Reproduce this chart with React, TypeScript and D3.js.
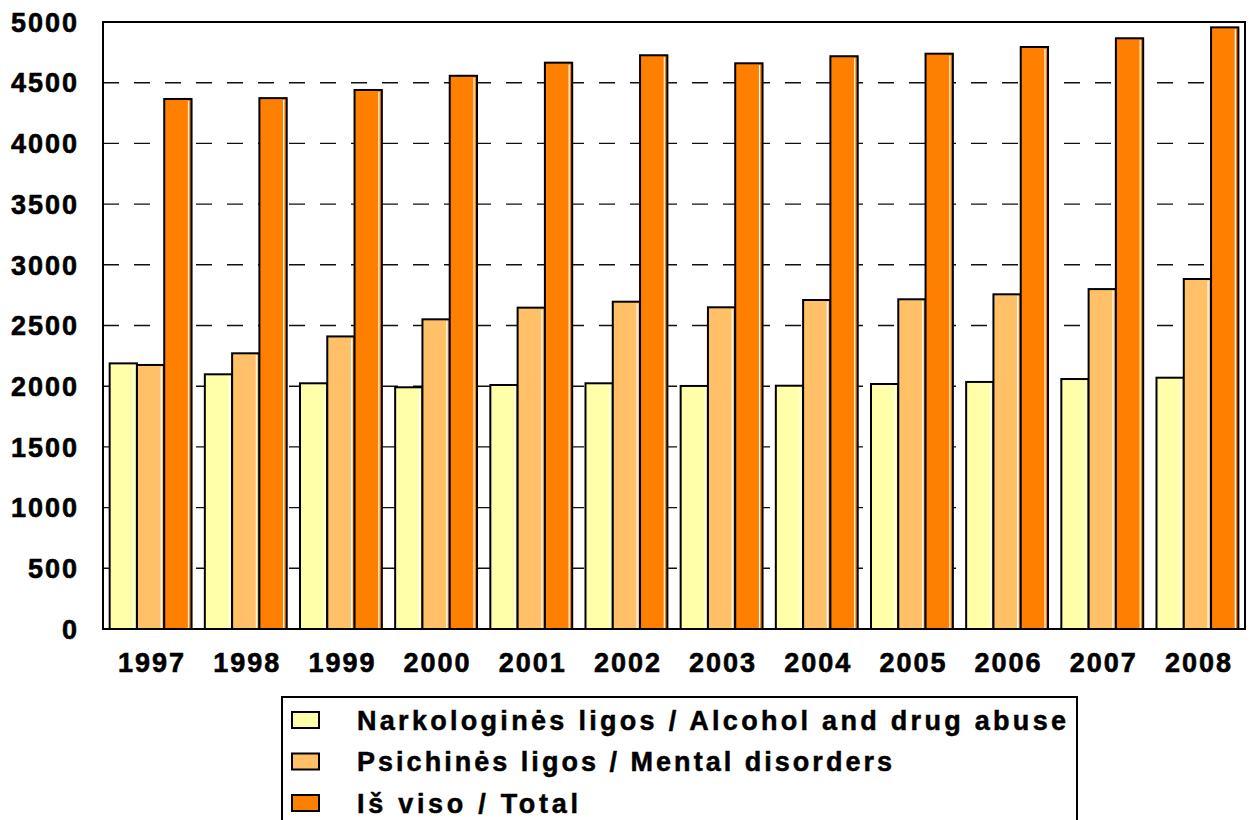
import React from "react";
import * as d3 from "d3";

const years = ["1997","1998","1999","2000","2001","2002","2003","2004","2005","2006","2007","2008"];
const alcohol = [2188, 2098, 2024, 1991, 2010, 2024, 2002, 2004, 2018, 2035, 2059, 2070];
const mental = [2175, 2271, 2410, 2551, 2647, 2696, 2650, 2710, 2716, 2757, 2800, 2883];
const total = [4366, 4373, 4440, 4557, 4665, 4726, 4660, 4718, 4739, 4794, 4866, 4956];
const yTicks = [0, 500, 1000, 1500, 2000, 2500, 3000, 3500, 4000, 4500, 5000];
const seriesNames = [
  "Narkologinės ligos / Alcohol and drug abuse",
  "Psichinės ligos / Mental disorders",
  "Iš viso / Total",
];
const seriesColors = ["#FFFFAA", "#FFC068", "#FF8000"];
const legendWidths = [709, 535, 221];

export default function App() {
  const W = 1250, H = 820;
  const left = 103, right = 1245, top = 22, bottom = 629;
  const y = d3.scaleLinear().domain([0, 5000]).range([bottom, top]);
  const x = d3.scaleBand().domain(years).range([left, right]).paddingInner(0.14).paddingOuter(0.07);
  const keys = ["a", "m", "t"];
  const xs = d3.scaleBand().domain(keys).range([0, x.bandwidth()]).padding(0);
  const data = [alcohol, mental, total];
  const font = "'Liberation Sans', Arial, sans-serif";

  return (
    <svg width={W} height={H} style={{ position: "absolute", left: 0, top: 0, background: "#fff" }}>
      {/* gridlines */}
      {yTicks.filter(t => t > 0 && t < 5000).map(t => (
        <line key={t} x1={left} x2={right} y1={y(t)} y2={y(t)} stroke="#111" strokeWidth={1.4} strokeDasharray="16,15" />
      ))}
      {/* bars */}
      {years.map((yr, i) => (
        <g key={yr} transform={`translate(${x(yr)},0)`}>
          {keys.map((k, j) => {
            const bx = xs(k)!;
            const bw = xs.bandwidth();
            const by = y(data[j][i]);
            return (
              <g key={k}>
                <rect x={bx + 1} y={by + 1} width={bw} height={bottom - by} fill="#999" opacity={0.5} />
                <rect x={bx} y={by} width={bw} height={bottom - by} fill={seriesColors[j]} stroke="#000" strokeWidth={2} />
                <line x1={bx + bw - 3} x2={bx + bw - 3} y1={by + 2} y2={bottom - 1} stroke="#fff" strokeWidth={1.2} />
              </g>
            );
          })}
        </g>
      ))}
      {/* frame */}
      <rect x={left} y={top} width={right - left} height={bottom - top} fill="none" stroke="#000" strokeWidth={2} />
      {/* y labels */}
      {yTicks.map(t => (
        <text key={t} x={79} y={y(t)} dy="0.36em" textAnchor="end" fontFamily={font} fontWeight="bold" fontSize={27} letterSpacing={2} stroke="#000" strokeWidth={0.6} fill="#000">{t}</text>
      ))}
      {/* x labels */}
      {years.map(yr => (
        <text key={yr} x={x(yr)! + x.bandwidth() / 2 + 1.5} y={672} textAnchor="middle" fontFamily={font} fontWeight="bold" fontSize={27} letterSpacing={2} stroke="#000" strokeWidth={0.6} fill="#000">{yr}</text>
      ))}
      {/* legend */}
      <rect x={282} y={697} width={795} height={140} fill="#fff" stroke="#000" strokeWidth={2} />
      {seriesNames.map((n, j) => {
        const cy = 720 + j * 41.5;
        return (
          <g key={n}>
            <rect x={292} y={cy - 8} width={27} height={16} fill={seriesColors[j]} stroke="#000" strokeWidth={2} />
            <text x={357} y={cy} dy="0.36em" fontFamily={font} fontWeight="bold" fontSize={27} textLength={legendWidths[j]} lengthAdjust="spacing" stroke="#000" strokeWidth={0.5} fill="#000">{n}</text>
          </g>
        );
      })}
    </svg>
  );
}
